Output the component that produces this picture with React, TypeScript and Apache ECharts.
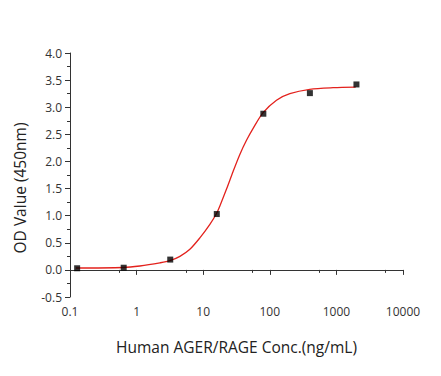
import React, { useEffect, useRef } from "react";
import * as echarts from "echarts";

const concentrations = [0.128, 0.64, 3.2, 16, 80, 400, 2000];
const odValues = [0.03, 0.04, 0.19, 1.03, 2.88, 3.26, 3.42];

const fitX = [0.123, 0.624, 1.12, 2.24, 3.16, 4.47, 6.31, 8.91, 12.6, 15.7, 17.8, 22.4, 28.2, 35.5, 44.7, 56.2, 79.4, 126, 200, 398, 891, 1950];
const fitY = [0.035, 0.044, 0.072, 0.13, 0.17, 0.25, 0.38, 0.59, 0.84, 1.03, 1.18, 1.49, 1.82, 2.13, 2.39, 2.61, 2.9, 3.13, 3.25, 3.33, 3.36, 3.37];

const xTickLabels = ["0.1", "1", "10", "100", "1000", "10000"];

const FONT = "'Open Sans', 'Noto Sans', sans-serif";

export default function App() {
  const ref = useRef<HTMLDivElement>(null);
  useEffect(() => {
    if (!ref.current) return;
    const chart = echarts.init(ref.current, null, { renderer: "svg" });
    const axisColor = "#333";
    chart.setOption({
      animation: false,
      backgroundColor: "#fff",
      grid: { left: 70, right: 38, top: 53, bottom: 79, containLabel: false },
      xAxis: {
        type: "log",
        logBase: 10,
        min: 0.1,
        max: 10000,
        name: "Human AGER/RAGE Conc.(ng/mL)",
        nameLocation: "middle",
        nameGap: 42,
        nameTextStyle: { fontFamily: FONT, fontSize: 15.5, color: "#222" },
        axisLine: { show: true, lineStyle: { color: axisColor, width: 1 } },
        axisTick: { show: true, length: 5, lineStyle: { color: axisColor } },
        minorTick: { show: true, splitNumber: 2, length: 3, lineStyle: { color: axisColor } },
        splitLine: { show: false },
        minorSplitLine: { show: false },
        axisLabel: {
          fontFamily: FONT,
          fontSize: 12,
          color: "#333",
          margin: 8,
          formatter: (_v: number, i: number) => xTickLabels[i] ?? "",
        },
      },
      yAxis: {
        type: "value",
        min: -0.5,
        max: 4,
        interval: 0.5,
        axisLine: { show: true, lineStyle: { color: axisColor, width: 1 } },
        axisTick: { show: true, length: 5, lineStyle: { color: axisColor } },
        minorTick: { show: true, splitNumber: 2, length: 3, lineStyle: { color: axisColor } },
        splitLine: { show: false },
        axisLabel: {
          fontFamily: FONT,
          fontSize: 12,
          color: "#333",
          margin: 8,
          formatter: (v: number) => v.toFixed(1),
        },
      },
      graphic: [
        {
          type: "text",
          x: 20,
          y: 188,
          rotation: Math.PI / 2,
          style: {
            text: "OD Value (450nm)",
            fontFamily: FONT,
            fontSize: 15.5,
            fill: "#222",
            textAlign: "center",
            textVerticalAlign: "middle",
          },
        },
      ],
      series: [
        {
          type: "line",
          data: fitX.map((x, i) => [x, fitY[i]]),
          smooth: 0.3,
          showSymbol: false,
          symbol: "none",
          lineStyle: { color: "#e3221d", width: 1.3 },
          z: 2,
        },
        {
          type: "scatter",
          data: concentrations.map((x, i) => [x, odValues[i]]),
          symbol: "rect",
          symbolSize: 6,
          itemStyle: { color: "#000" },
          z: 3,
        },
      ],
    });
    return () => chart.dispose();
  }, []);
  return (
    <div
      ref={ref}
      style={{ position: "absolute", left: 0, top: 0, width: 441, height: 376 }}
    />
  );
}
